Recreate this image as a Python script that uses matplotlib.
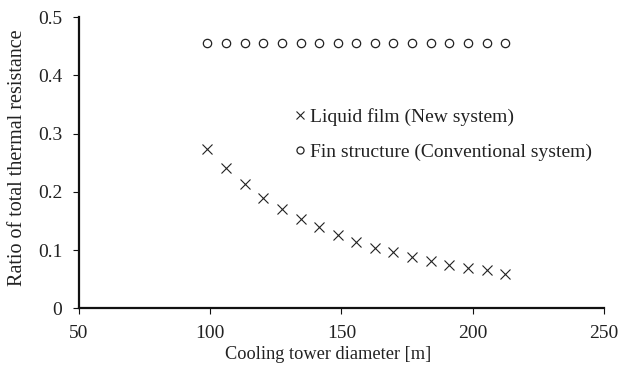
import matplotlib
matplotlib.use("Agg")
import matplotlib.pyplot as plt

plt.rcParams['font.family'] = ['Liberation Serif', 'DejaVu Serif']

# Cooling tower diameter [m]
diameter = [98.9, 106.0, 113.1, 120.2, 127.3, 134.4, 141.5, 148.5, 155.6,
            162.7, 169.8, 176.9, 184.0, 191.1, 198.2, 205.3, 212.4]
# Ratio of total thermal resistance
liquid_film = [0.273, 0.241, 0.214, 0.190, 0.171, 0.153, 0.139, 0.125, 0.114,
               0.104, 0.096, 0.088, 0.081, 0.075, 0.070, 0.065, 0.059]
fin_structure = [0.455] * len(diameter)

x_ticks = [50, 100, 150, 200, 250]
y_ticks = [0, 0.1, 0.2, 0.3, 0.4, 0.5]
y_tick_labels = ['0', '0.1', '0.2', '0.3', '0.4', '0.5']

fig = plt.figure(figsize=(6.3, 3.69), dpi=100)
ax = fig.add_axes([0.1254, 0.1645, 0.8333, 0.7894])

ax.plot(diameter, liquid_film, linestyle='none', marker='x', markersize=7,
        markeredgewidth=0.8, color='#222222', label='Liquid film (New system)')
ax.plot(diameter, fin_structure, linestyle='none', marker='o', markersize=6.0,
        markeredgewidth=0.9, markerfacecolor='white', markeredgecolor='#222222',
        label='Fin structure (Conventional system)')

ax.set_xlim(50, 250)
ax.set_ylim(0, 0.5)
ax.set_xticks(x_ticks)
ax.set_xticklabels([str(t) for t in x_ticks])
ax.set_yticks(y_ticks)
ax.set_yticklabels(y_tick_labels)

for side in ('top', 'right'):
    ax.spines[side].set_visible(False)
for side in ('left', 'bottom'):
    ax.spines[side].set_linewidth(1.6)
    ax.spines[side].set_color('#111111')

ax.tick_params(direction='out', length=4, width=0.8, colors='#111111',
               labelsize=14, labelcolor='#222222')
ax.tick_params(axis='y', pad=8)
ax.tick_params(axis='x', pad=8)

ax.set_xlabel('Cooling tower diameter [m]', fontsize=13.2, color='#222222', labelpad=3)
ax.xaxis.label.set_x(0.475)
ax.set_ylabel('Ratio of total thermal resistance', fontsize=14.5, color='#222222')
ax.yaxis.set_label_coords(-0.099, 0.516)

leg = ax.legend(loc='upper left', bbox_to_anchor=(0.41, 0.687), frameon=False,
                fontsize=14, handlelength=0.6, handletextpad=0.2,
                labelspacing=0.9, borderaxespad=0, borderpad=0, markerscale=0.85)
for t in leg.get_texts():
    t.set_color('#222222')

fig.savefig('out.png', dpi=100)
